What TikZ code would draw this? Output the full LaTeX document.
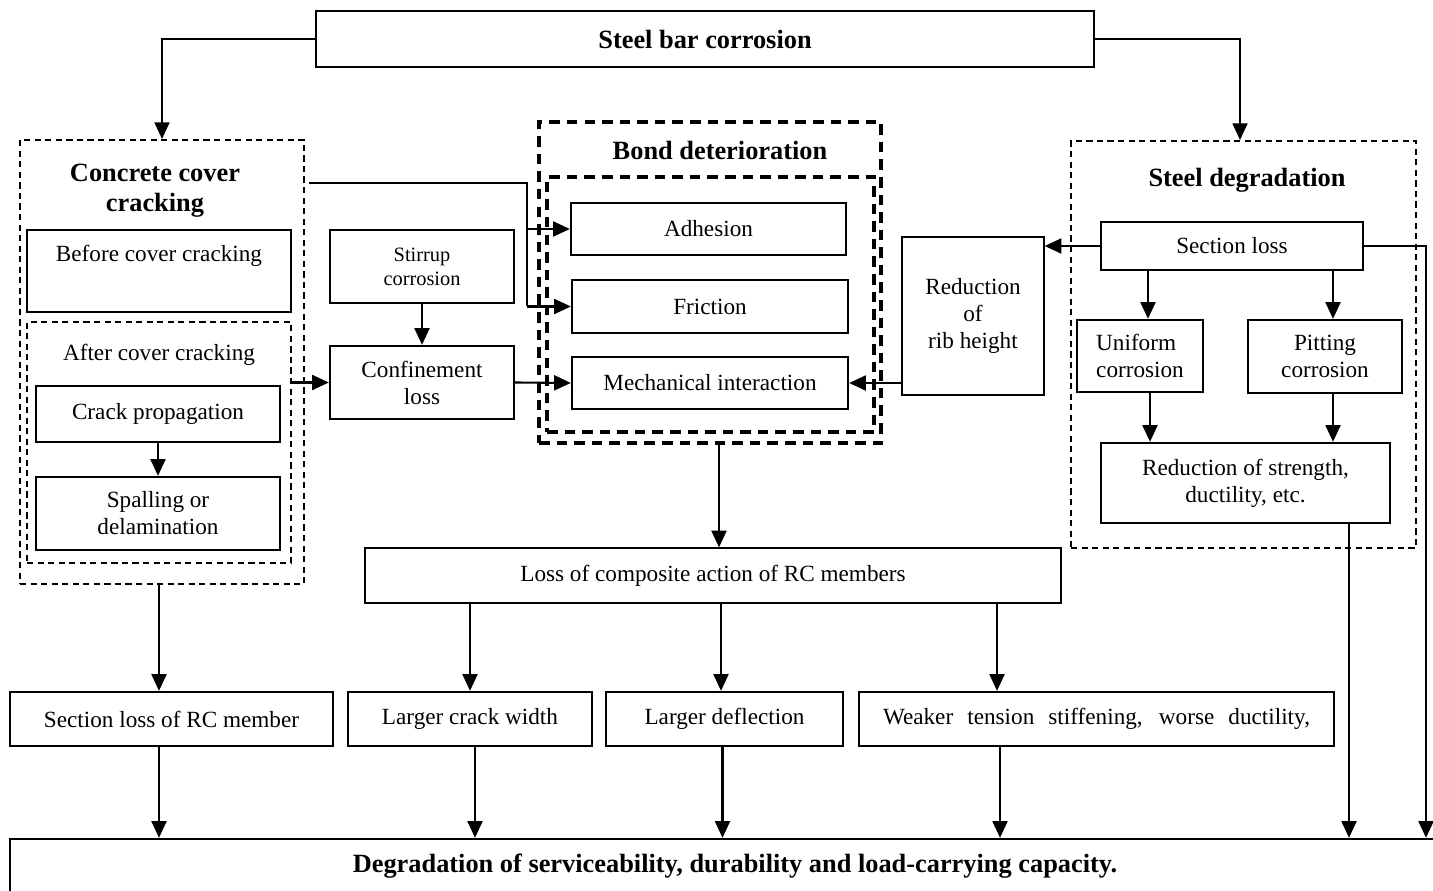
\documentclass[tikz,border=0pt]{standalone}
\usepackage{fontspec}
\setmainfont{Liberation Serif}
\usetikzlibrary{arrows.meta,positioning}

\tikzset{
  box/.style={draw, line width=1.3pt, align=center, inner sep=2pt},
  thinbox/.style={draw, line width=0.7pt, align=center, inner sep=2pt},
  dashbox/.style={draw, line width=1.1pt, dash pattern=on 3.5pt off 2.5pt},
  bigdash/.style={draw, line width=1.9pt, dash pattern=on 6pt off 4pt},
  title/.style={font=\fontsize{15}{17}\selectfont\bfseries, align=center},
  small/.style={font=\fontsize{11.6}{13.6}\selectfont},
  ln/.style={line width=1.2pt},
  arr/.style={line width=1.2pt, -{Triangle[length=9.5pt,width=8.5pt]}},
}

\begin{document}
\begin{tikzpicture}[every node/.append style={font=\fontsize{13.2}{15.4}\selectfont}]
\useasboundingbox (0,0) rectangle (28.66,-17.82);
\clip (0,0) rectangle (28.66,-17.82);

% top
\node[thinbox, minimum width=15.56cm, minimum height=1.12cm, title] (top) at (14.10,-0.78) {Steel bar corrosion};

% concrete cover cracking
\node[dashbox, minimum width=5.68cm, minimum height=8.88cm] (ccc) at (3.24,-7.24) {};
\node[title] (ccctitle) at (3.10,-3.82) {Concrete cover\\cracking};
\node[box, minimum width=5.28cm, minimum height=1.64cm] (before) at (3.18,-5.42) {};
\node (beforetxt) at (3.18,-5.12) {Before cover cracking};
\node[dashbox, minimum width=5.28cm, minimum height=4.82cm] (after) at (3.18,-8.85) {};
\node (aftertxt) at (3.18,-7.10) {After cover cracking};
\node[box, minimum width=4.88cm, minimum height=1.12cm] (crack) at (3.16,-8.28) {Crack propagation};
\node[box, minimum width=4.88cm, minimum height=1.46cm] (spall) at (3.16,-10.27) {Spalling or\\delamination};

% stirrups
\node[box, minimum width=3.68cm, minimum height=1.46cm, small] (stirrup) at (8.44,-5.33) {Stirrup\\corrosion};
\node[box, minimum width=3.68cm, minimum height=1.46cm] (confine) at (8.44,-7.65) {Confinement\\loss};

% bond
\node[bigdash, minimum width=6.84cm, minimum height=6.42cm] (bond) at (14.20,-5.65) {};
\node[title] (bondtitle) at (14.40,-3.00) {Bond deterioration};
\node[bigdash, minimum width=6.54cm, minimum height=5.10cm] (bondin) at (14.21,-6.09) {};
\node[box, minimum width=5.50cm, minimum height=1.04cm] (adhesion) at (14.17,-4.58) {Adhesion};
\node[box, minimum width=5.52cm, minimum height=1.06cm] (friction) at (14.20,-6.13) {Friction};
\node[box, minimum width=5.52cm, minimum height=1.04cm] (mech) at (14.20,-7.66) {Mechanical interaction};
\node[thinbox, minimum width=2.84cm, minimum height=3.16cm] (rib) at (19.46,-6.32) {Reduction\\of\\rib height};

% steel
\node[dashbox, minimum width=6.90cm, minimum height=8.14cm] (steel) at (24.87,-6.89) {};
\node[title] (steeltitle) at (24.94,-3.60) {Steel degradation};
\node[box, minimum width=5.24cm, minimum height=0.96cm] (secloss) at (24.64,-4.92) {Section loss};
\node[box, minimum width=2.52cm, minimum height=1.44cm, align=left] (uniform) at (22.80,-7.12) {Uniform\\corrosion};
\node[box, minimum width=3.08cm, minimum height=1.46cm] (pitting) at (26.50,-7.13) {Pitting\\corrosion};
\node[box, minimum width=5.78cm, minimum height=1.60cm] (strength) at (24.91,-9.66) {Reduction of strength,\\ductility, etc.};

% effects
\node[thinbox, minimum width=13.92cm, minimum height=1.10cm] (loss) at (14.26,-11.51) {Loss of composite action of RC members};
\node[box, minimum width=6.46cm, minimum height=1.08cm] (rcsec) at (3.43,-14.38) {Section loss of RC member};
\node[box, minimum width=4.88cm, minimum height=1.08cm] (crackw) at (9.40,-14.38) {Larger crack width};
\node[box, minimum width=4.74cm, minimum height=1.08cm] (defl) at (14.49,-14.38) {Larger deflection};
\node[box, minimum width=9.50cm, minimum height=1.08cm] (weaker) at (21.93,-14.38) {\makebox[8.54cm][s]{Weaker tension stiffening, worse ductility,}};
\node[box, minimum width=29.0cm, minimum height=1.08cm, title] (degr) at (14.70,-17.32) {Degradation of serviceability, durability and load-carrying capacity.};

% connectors
\draw[arr] (top.west) -| (ccc.north);
\draw[arr] (top.east) -| ([xshift=-0.07cm]steel.north);
\coordinate (cc1) at (6.18,-3.66);
\coordinate (jn) at (10.54,-3.66);
\draw[ln] (cc1) -- (jn) -- (jn |- friction.west);
\draw[arr] (jn |- adhesion.west) -- (adhesion.west);
\draw[arr] (jn |- friction.west) -- (friction.west);
\draw[arr] (crack) -- (spall);
\draw[arr] (after.east |- confine.west) -- (confine.west);
\draw[arr] (stirrup) -- (confine);
\draw[arr] (confine.east) -- (mech.west);
\draw[arr] (secloss.west) -- (secloss.west -| rib.east);
\draw[arr] (rib.west |- mech.east) -- (mech.east);
\draw[arr] ([xshift=0.16cm]uniform.north |- secloss.south) -- ([xshift=0.16cm]uniform.north);
\draw[arr] ([xshift=0.16cm]pitting.north |- secloss.south) -- ([xshift=0.16cm]pitting.north);
\draw[arr] ([xshift=0.2cm]uniform.south) -- ([xshift=0.2cm]uniform.south |- strength.north);
\draw[arr] ([xshift=0.16cm]pitting.south) -- ([xshift=0.16cm]pitting.south |- strength.north);
\coordinate (rt) at (28.52,-4.92);
\draw[arr] (secloss.east) -- (rt) -- (rt |- degr.north);
\draw[arr] ([xshift=2.07cm]strength.south) -- ([xshift=2.07cm]strength.south |- degr.north);
\draw[arr] ([xshift=0.18cm]bond.south) -- ([xshift=0.18cm]bond.south |- loss.north);
\draw[arr] (crackw.north |- loss.south) -- (crackw.north);
\draw[arr] ([xshift=-0.07cm]defl.north |- loss.south) -- ([xshift=-0.07cm]defl.north);
\draw[arr] ([xshift=-1.99cm]weaker.north |- loss.south) -- ([xshift=-1.99cm]weaker.north);
\draw[arr] ([xshift=-0.06cm]ccc.south) -- ([xshift=-0.06cm]ccc.south |- rcsec.north);
\draw[arr] ([xshift=-0.25cm]rcsec.south) -- ([xshift=-0.25cm]rcsec.south |- degr.north);
\draw[arr] ([xshift=0.1cm]crackw.south) -- ([xshift=0.1cm]crackw.south |- degr.north);
\draw[arr] ([xshift=-0.04cm]defl.south) -- ([xshift=-0.04cm]defl.south |- degr.north);
\draw[arr] ([xshift=-1.93cm]weaker.south) -- ([xshift=-1.93cm]weaker.south |- degr.north);
\end{tikzpicture}
\end{document}
